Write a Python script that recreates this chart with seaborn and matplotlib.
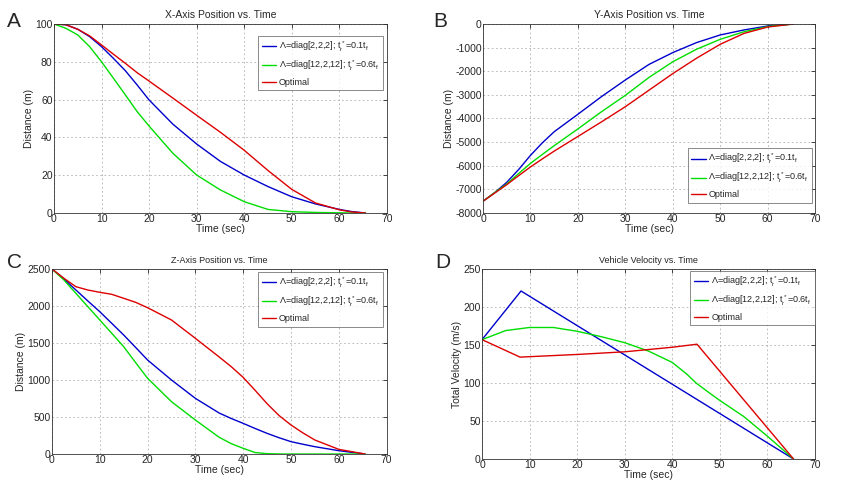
import numpy as np
import pandas as pd
import matplotlib
matplotlib.use("Agg")
import matplotlib.pyplot as plt
import seaborn as sns

sns.set_style("white")
plt.rcParams['font.family'] = ['Liberation Sans', 'DejaVu Sans']
plt.rcParams['mathtext.fontset'] = 'custom'
plt.rcParams['mathtext.rm'] = 'Liberation Sans'
plt.rcParams['mathtext.it'] = 'Liberation Sans'
plt.rcParams['axes.unicode_minus'] = False

LABELS = [r"$\Lambda$=diag[2,2,2]; $t_r^*$=0.1$t_f$",
          r"$\Lambda$=diag[12,2,12]; $t_r^*$=0.6$t_f$",
          "Optimal"]
COLORS = ["#0000cc", "#00dd00", "#dd0000"]

# ---- Panel A: X-axis position ----
tA = [0, 2.5, 5, 7.5, 10, 12.5, 15, 17.5, 20, 25, 30, 35, 40, 45, 50, 55, 60, 62.5, 65.5]
xA_blue = [100, 99.6, 97.2, 93.3, 88, 81.8, 75.3, 67.7, 59.8, 47, 36.5, 27.3, 20.1, 14, 8.6, 4.8, 1.9, 0.8, 0]
xA_green = [100, 97.7, 94.2, 88, 80, 71.3, 62.5, 53.6, 46, 31.6, 20.1, 12.2, 6, 1.9, 0.7, 0.3, 0.1, 0, 0]
xA_red = [100, 99.6, 97.2, 93.7, 88.9, 84, 79.2, 74.2, 69.8, 60.8, 51.7, 42.7, 33.2, 22.5, 12.5, 5.3, 1.7, 0.6, 0]

# ---- Panel B: Y-axis position ----
tB = [0, 2.5, 5, 7.5, 10, 12.5, 15, 20, 25, 30, 35, 40, 45, 50, 55, 60, 65.5]
yB_blue = [-7500, -7130, -6700, -6160, -5560, -5030, -4560, -3820, -3070, -2370, -1710, -1211, -789, -465, -254, -85, 0]
yB_green = [-7500, -7130, -6770, -6330, -5900, -5520, -5150, -4440, -3710, -3020, -2260, -1600, -1070, -650, -330, -110, 0]
yB_red = [-7500, -7150, -6800, -6420, -6050, -5710, -5380, -4760, -4140, -3500, -2800, -2100, -1450, -860, -400, -130, 0]

# ---- Panel C: Z-axis position ----
tC = [0, 2.5, 5, 7.5, 10, 12.5, 15, 17.5, 20, 25, 30, 35, 37.5, 40, 42.5, 45, 47.5, 50, 52.5, 55, 60, 65.5]
zC_blue = [2500, 2365, 2216, 2068, 1923, 1766, 1608, 1440, 1270, 1000, 752, 553, 480, 414, 345, 279, 220, 167, 132, 99, 45, 0]
zC_green = [2500, 2351, 2171, 1991, 1811, 1631, 1450, 1235, 1023, 707, 459, 225, 140, 77, 20, 5, 1, 0, 0, 0, 0, 0]
zC_red = [2500, 2374, 2261, 2216, 2185, 2158, 2104, 2050, 1977, 1811, 1563, 1310, 1180, 1035, 860, 680, 520, 392, 285, 189, 63, 0]

# ---- Panel D: velocity ----
tD_blue = [0, 8.2, 65.5]
vD_blue = [157, 221, 0]
tD_green = [0, 5, 10, 15, 20, 25, 30, 35, 40, 43, 45, 48, 50, 55, 60, 65.5]
vD_green = [157, 169, 173, 173, 168, 161, 153, 142, 127, 112, 100, 86, 77, 56, 30, 0]
tD_red = [0, 8, 20, 30, 40, 45.2, 65.5]
vD_red = [157, 134, 137.5, 141, 147, 151, 0]

fig = plt.figure(figsize=(8.58, 4.86), dpi=100)
axA = fig.add_axes([0.0629, 0.5617, 0.388, 0.389])
axB = fig.add_axes([0.563, 0.5617, 0.387, 0.389])
axC = fig.add_axes([0.0606, 0.0658, 0.390, 0.3807])
axD = fig.add_axes([0.5618, 0.0556, 0.388, 0.391])


def draw(ax, series, title, ylabel, ylim, yticks, legend_loc, anchor, title_fs):
    for i, (t, v) in enumerate(series):
        df = pd.DataFrame({"t": t, "v": v})
        sns.lineplot(data=df, x="t", y="v", ax=ax, color=COLORS[i], lw=1.0,
                     label=LABELS[i], estimator=None, sort=False)
    ax.set_xlim(0, 70)
    ax.set_ylim(*ylim)
    ax.set_xticks(range(0, 71, 10))
    ax.set_yticks(yticks)
    ax.tick_params(direction="in", length=3, width=0.6, labelsize=7.5, pad=1,
                   top=True, right=True)
    ax.grid(True, ls=(0, (2, 3)), color="#b0b0b0", lw=0.6)
    for s in ax.spines.values():
        s.set_color("#333333")
        s.set_linewidth(0.6)
    ax.set_title(title, fontsize=title_fs, pad=4)
    ax.set_xlabel("Time (sec)", fontsize=7.5, labelpad=0)
    ax.set_ylabel(ylabel, fontsize=7.5, labelpad=1)
    leg = ax.legend(loc=legend_loc, bbox_to_anchor=anchor, fontsize=6.5,
                    frameon=True, fancybox=False, handlelength=1.6,
                    handletextpad=0.3, borderpad=0.4, labelspacing=0.55,
                    borderaxespad=0)
    leg.get_frame().set_edgecolor("#555555")
    leg.get_frame().set_linewidth(0.6)


draw(axA, [(tA, xA_blue), (tA, xA_green), (tA, xA_red)],
     "X-Axis Position vs. Time", "Distance (m)", (0, 100),
     [0, 20, 40, 60, 80, 100], "upper right", (0.988, 0.937), 7.5)
draw(axB, [(tB, yB_blue), (tB, yB_green), (tB, yB_red)],
     "Y-Axis Position vs. Time", "Distance (m)", (-8000, 0),
     list(range(-8000, 1, 1000)), "lower right", (0.991, 0.053), 7.5)
draw(axC, [(tC, zC_blue), (tC, zC_green), (tC, zC_red)],
     "Z-Axis Position vs. Time", "Distance (m)", (0, 2500),
     list(range(0, 2501, 500)), "upper right", (0.988, 0.984), 6.5)
draw(axD, [(tD_blue, vD_blue), (tD_green, vD_green), (tD_red, vD_red)],
     "Vehicle Velocity vs. Time", "Total Velocity (m/s)", (0, 250),
     list(range(0, 251, 50)), "upper right", (1.0, 0.99), 6.5)

for letter, x, y in [("A", 0.008, 0.975), ("B", 0.505, 0.975),
                     ("C", 0.008, 0.48), ("D", 0.507, 0.48)]:
    fig.text(x, y, letter, fontsize=15, ha="left", va="top")

fig.savefig("out.png", dpi=100, facecolor="white")
